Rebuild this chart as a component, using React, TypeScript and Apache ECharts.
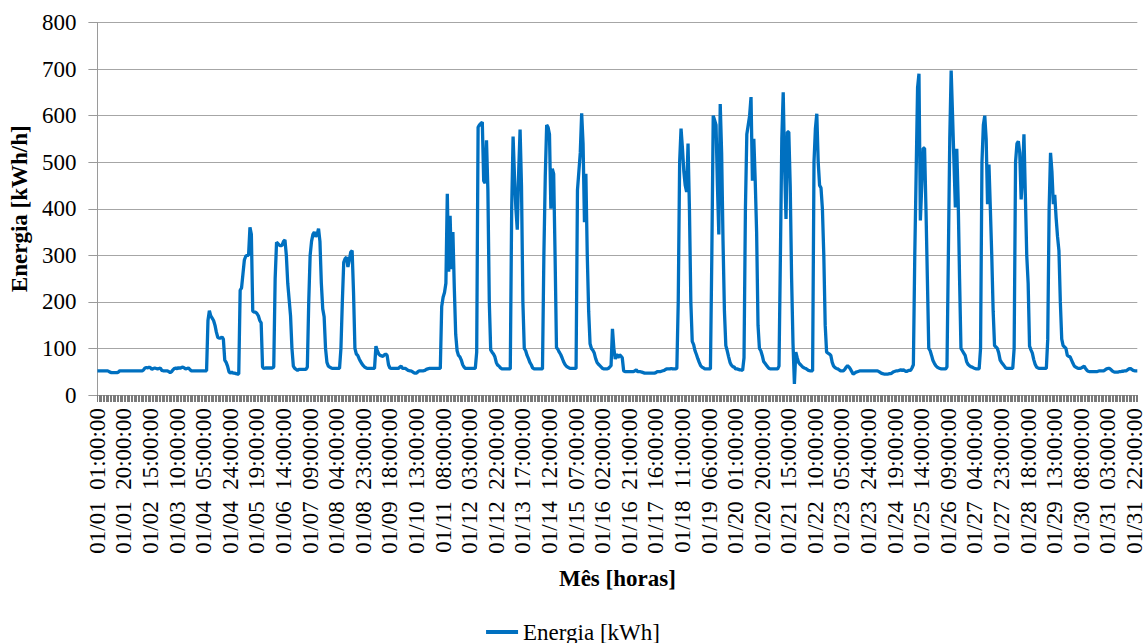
import React, { useEffect, useRef } from 'react';
import * as echarts from 'echarts';

// Hourly energy values (kWh) for each day of January, hours 01..24
const jan01 = [52, 52, 52, 52, 52, 52, 52, 52, 51, 49, 48, 48, 48, 48, 48, 49, 52, 52, 52, 52, 52, 52, 52, 52];
const jan02 = [52, 52, 52, 52, 52, 52, 52, 52, 52, 54, 58, 59, 58, 60, 58, 55, 57, 58, 57, 56, 57, 58, 53, 52];
const jan03 = [52, 52, 52, 50, 48, 50, 54, 57, 58, 56, 59, 57, 59, 60, 58, 56, 57, 58, 55, 52, 52, 52, 52, 52];
const jan04 = [52, 52, 52, 52, 52, 52, 52, 160, 181, 170, 165, 160, 150, 135, 124, 122, 122, 125, 120, 75, 70, 62, 50, 47];
const jan05 = [49, 47, 47, 46, 45, 45, 225, 230, 260, 290, 298, 300, 300, 360, 345, 180, 178, 178, 175, 170, 160, 155, 60, 57];
const jan06 = [58, 58, 58, 58, 58, 58, 60, 250, 328, 325, 322, 320, 322, 330, 333, 300, 240, 205, 170, 100, 62, 57, 55, 53];
const jan07 = [55, 55, 55, 55, 55, 55, 60, 200, 300, 330, 345, 350, 340, 345, 357, 330, 240, 185, 168, 100, 70, 62, 60, 58];
const jan08 = [57, 57, 57, 57, 57, 57, 100, 200, 285, 293, 296, 275, 290, 307, 310, 220, 100, 88, 85, 78, 72, 67, 63, 60];
const jan09 = [58, 57, 57, 57, 57, 57, 57, 105, 95, 88, 85, 84, 83, 86, 88, 85, 65, 58, 57, 57, 57, 57, 57, 57];
const jan10 = [60, 62, 57, 57, 57, 55, 53, 52, 52, 50, 48, 47, 47, 50, 52, 52, 52, 52, 53, 55, 56, 57, 57, 57];
const jan11 = [57, 57, 57, 57, 57, 57, 190, 210, 220, 240, 432, 265, 385, 270, 350, 230, 130, 95, 85, 82, 75, 65, 60, 57];
const jan12 = [57, 57, 57, 57, 57, 57, 57, 92, 575, 580, 583, 586, 460, 455, 547, 440, 200, 97, 92, 88, 82, 70, 64, 62];
const jan13 = [58, 56, 56, 56, 56, 56, 56, 56, 400, 555, 470, 400, 355, 480, 570, 450, 200, 100, 95, 85, 78, 70, 65, 58];
const jan14 = [56, 56, 56, 56, 56, 56, 56, 300, 470, 580, 575, 560, 400, 486, 475, 300, 102, 98, 92, 87, 80, 72, 66, 62];
const jan15 = [60, 58, 57, 57, 57, 57, 57, 440, 480, 520, 605, 540, 371, 475, 300, 180, 110, 100, 96, 90, 78, 70, 66, 63];
const jan16 = [60, 57, 56, 56, 56, 57, 60, 63, 142, 100, 77, 88, 80, 86, 84, 80, 52, 50, 50, 50, 50, 50, 50, 50];
const jan17 = [52, 54, 50, 50, 50, 49, 48, 47, 47, 47, 47, 47, 47, 47, 47, 48, 50, 50, 50, 51, 52, 53, 55, 56];
const jan18 = [56, 56, 57, 56, 56, 56, 57, 200, 500, 572, 530, 480, 450, 436, 540, 400, 200, 115, 108, 95, 87, 78, 70, 63];
const jan19 = [60, 58, 56, 56, 56, 56, 56, 300, 600, 590, 580, 450, 345, 625, 520, 330, 180, 106, 95, 82, 70, 64, 61, 60];
const jan20 = [56, 56, 55, 54, 54, 53, 80, 400, 560, 580, 600, 640, 460, 550, 460, 350, 150, 100, 95, 85, 72, 68, 64, 60];
const jan21 = [57, 56, 56, 56, 56, 56, 56, 62, 300, 550, 650, 490, 378, 565, 565, 450, 250, 110, 24, 92, 80, 70, 66, 63];
const jan22 = [60, 58, 57, 55, 53, 52, 52, 52, 500, 572, 604, 500, 450, 445, 400, 300, 150, 92, 90, 88, 85, 70, 62, 59];
const jan23 = [57, 56, 54, 52, 52, 52, 55, 60, 63, 60, 56, 50, 45, 47, 49, 50, 51, 52, 52, 52, 52, 52, 52, 52];
const jan24 = [52, 52, 52, 52, 52, 52, 51, 49, 47, 46, 45, 45, 45, 45, 46, 46, 48, 50, 51, 52, 52, 53, 54, 53];
const jan25 = [54, 52, 50, 52, 53, 53, 58, 65, 300, 480, 660, 690, 375, 450, 530, 530, 400, 250, 100, 95, 85, 74, 68, 63];
const jan26 = [60, 58, 57, 56, 56, 56, 56, 60, 300, 550, 697, 600, 500, 403, 529, 420, 250, 100, 95, 90, 85, 72, 66, 63];
const jan27 = [61, 60, 58, 57, 56, 56, 56, 100, 500, 580, 600, 550, 410, 495, 400, 300, 180, 106, 103, 100, 90, 75, 70, 66];
const jan28 = [62, 58, 57, 57, 57, 57, 57, 100, 500, 540, 545, 520, 420, 470, 560, 430, 300, 240, 105, 97, 90, 76, 66, 60];
const jan29 = [58, 57, 57, 57, 57, 57, 57, 120, 400, 520, 480, 410, 430, 380, 340, 310, 200, 120, 106, 103, 100, 85, 83, 82];
const jan30 = [75, 68, 62, 60, 58, 57, 57, 58, 60, 62, 57, 53, 51, 50, 50, 50, 50, 50, 50, 51, 52, 52, 52, 52];
const jan31 = [54, 56, 57, 57, 55, 52, 50, 49, 49, 49, 50, 50, 51, 51, 52, 52, 54, 56, 57, 55, 53, 52, 52, 52];

const days = [
  jan01, jan02, jan03, jan04, jan05, jan06, jan07, jan08, jan09, jan10,
  jan11, jan12, jan13, jan14, jan15, jan16, jan17, jan18, jan19, jan20,
  jan21, jan22, jan23, jan24, jan25, jan26, jan27, jan28, jan29, jan30, jan31,
];

const energia: number[] = days.flat();

const pad = (n: number) => (n < 10 ? '0' + n : String(n));
const categories: string[] = [];
days.forEach((day, d) => {
  day.forEach((_, h) => {
    categories.push(`01/${pad(d + 1)}  ${pad(h + 1)}:00:00`);
  });
});

const seriesName = 'Energia [kWh]';
const xTitle = 'Mês [horas]';
const yTitle = 'Energia [kWh/h]';

export default function App() {
  const ref = useRef<HTMLDivElement>(null);
  useEffect(() => {
    document.body.style.margin = '0';
    const chart = echarts.init(ref.current!, undefined, { renderer: 'svg' });
    const font = 'Liberation Serif';
    chart.setOption({
      animation: false,
      backgroundColor: '#fff',
      textStyle: { fontFamily: font },
      grid: { left: 92, right: 8, top: 22.5, bottom: 248, containLabel: false },
      legend: {
        data: [seriesName],
        left: 'center',
        top: 615,
        icon: 'rect',
        itemWidth: 32,
        itemHeight: 4,
        textStyle: { fontSize: 23, lineHeight: 24, color: '#000', fontFamily: font },
      },
      xAxis: {
        type: 'category',
        data: categories,
        boundaryGap: false,
        name: xTitle,
        nameLocation: 'middle',
        nameGap: 172,
        nameTextStyle: { fontSize: 23, fontWeight: 'bold', color: '#000', fontFamily: font, verticalAlign: 'top' },
        axisLine: { lineStyle: { color: '#9a9a9a', width: 1 } },
        axisTick: { show: true, interval: 0, length: 7, lineStyle: { color: '#7a7a7a' } },
        axisLabel: {
          interval: 18,
          rotate: 90,
          margin: 13,
          fontSize: 23,
          color: '#000',
          fontFamily: font,
          hideOverlap: false,
        },
        splitLine: { show: false },
      },
      yAxis: {
        type: 'value',
        min: 0,
        max: 800,
        interval: 100,
        name: yTitle,
        nameLocation: 'middle',
        nameRotate: 90,
        nameGap: 62,
        nameTextStyle: { fontSize: 23, fontWeight: 'bold', color: '#000', fontFamily: font },
        axisLine: { show: true, lineStyle: { color: '#9a9a9a', width: 1 } },
        axisTick: { show: true, length: 9, lineStyle: { color: '#9a9a9a' } },
        axisLabel: { margin: 21, fontSize: 23, color: '#000', fontFamily: font },
        splitLine: { show: true, lineStyle: { color: '#a6a6a6', width: 1 } },
      },
      series: [
        {
          type: 'line',
          name: seriesName,
          data: energia,
          symbol: 'none',
          showSymbol: false,
          lineStyle: { color: '#0070C0', width: 3.3 },
          itemStyle: { color: '#0070C0' },
        },
      ],
    });
    return () => chart.dispose();
  }, []);
  return <div ref={ref} style={{ width: 1146, height: 643 }} />;
}
